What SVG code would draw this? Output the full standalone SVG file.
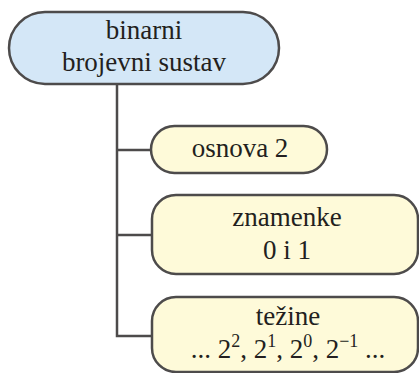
<svg xmlns="http://www.w3.org/2000/svg" width="419" height="373" viewBox="0 0 419 373">
<style>
.box{stroke:#4d4b4b;stroke-width:2.5}
.blue{fill:#d4e7f7}
.yel{fill:#fefad9}
.t{font-family:"Liberation Serif","Times New Roman",serif;font-size:27px;fill:#231f20;text-anchor:middle}
.sup{font-size:18px}
.con{stroke:#4d4b4b;stroke-width:2.5;fill:none}
</style>
<rect width="419" height="373" fill="#ffffff"/>
<g id="connectors">
<path class="con" d="M117,84 V336 H152 M117,150 H151 M117,235 H152"/>
</g>
<g id="root">
<rect class="box blue" x="9" y="12" width="270" height="72" rx="36"/>
<text class="t" x="144" y="39">binarni</text>
<text class="t" x="144" y="71">brojevni sustav</text>
</g>
<g id="osnova">
<rect class="box yel" x="151" y="126" width="176" height="47" rx="23.5"/>
<text class="t" x="240" y="157">osnova 2</text>
</g>
<g id="znamenke">
<rect class="box yel" x="152" y="195" width="266" height="79" rx="24"/>
<text class="t" x="287" y="226">znamenke</text>
<text class="t" x="287" y="259">0 i 1</text>
</g>
<g id="tezine">
<rect class="box yel" x="152" y="297" width="266" height="75" rx="24"/>
<text class="t" x="288" y="325">težine</text>
<text class="t" x="288" y="358">... 2<tspan class="sup" dy="-11">2</tspan><tspan dy="11">, 2</tspan><tspan class="sup" dy="-11">1</tspan><tspan dy="11">, 2</tspan><tspan class="sup" dy="-11">0</tspan><tspan dy="11">, 2</tspan><tspan class="sup" dy="-11">−1</tspan><tspan dy="11"> ...</tspan></text>
</g>
</svg>
